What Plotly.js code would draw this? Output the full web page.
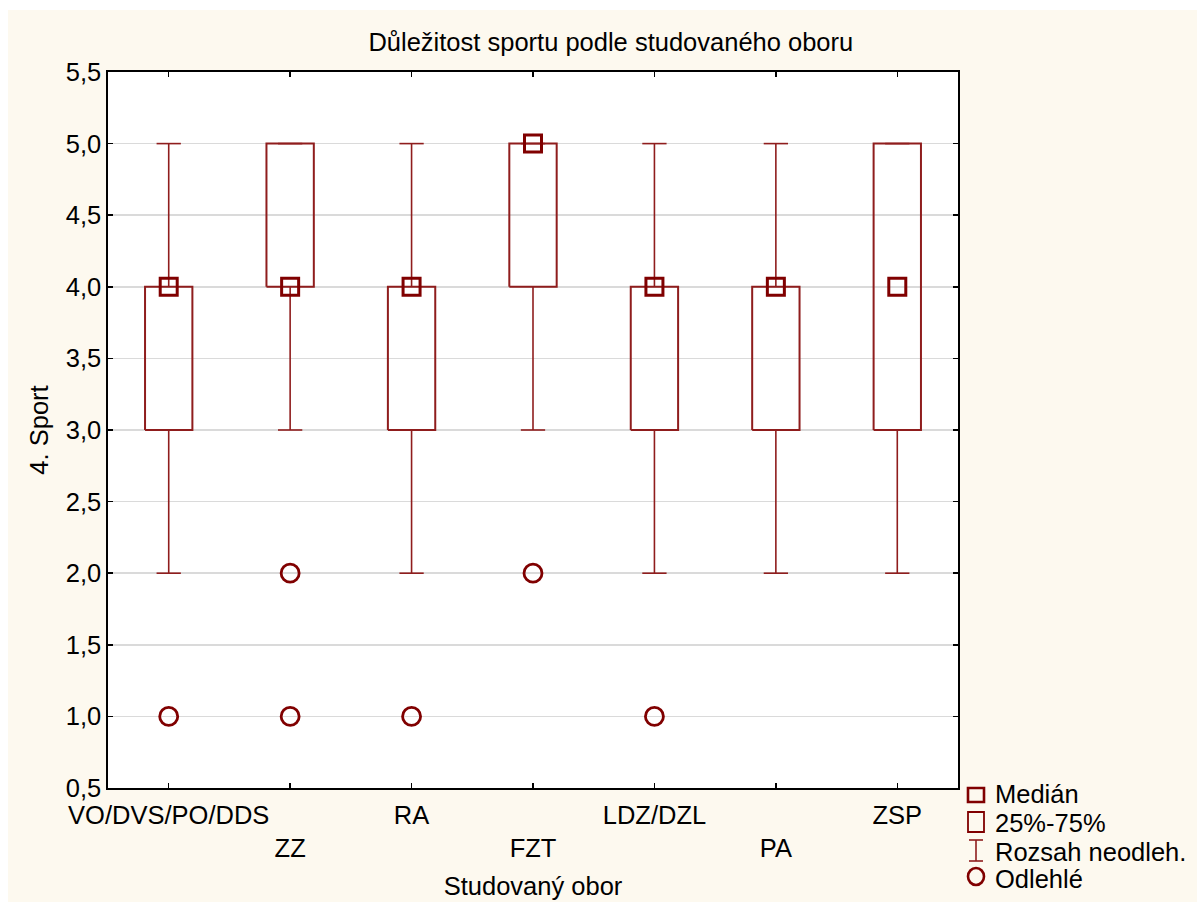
<!DOCTYPE html>
<html>
<head>
<meta charset="utf-8">
<script src="https://cdn.plot.ly/plotly-3.0.1.min.js"></script>
<style>
  html, body { margin: 0; padding: 0; background: #ffffff; }
  #chart { position: absolute; left: 8px; top: 10px; width: 1189px; height: 892px; }
</style>
</head>
<body>
<div id="chart"></div>
<script>
// ---- data ----
const categories = ['VO/DVS/PO/DDS', 'ZZ', 'RA', 'FZT', 'LDZ/DZL', 'PA', 'ZSP'];
const medians = [4, 4, 4, 5, 4, 4, 4];
const q1 = [3, 4, 3, 4, 3, 3, 3];
const q3 = [4, 5, 4, 5, 4, 4, 5];
const whiskerLow = [2, 3, 2, 3, 2, 2, 2];
const whiskerHigh = [5, 5, 5, 5, 5, 5, 5];
const outliers = [[1], [2, 1], [1], [2], [1], [], []];
const yTickVals = [0.5, 1.0, 1.5, 2.0, 2.5, 3.0, 3.5, 4.0, 4.5, 5.0, 5.5];
const legendLabels = ['Medián', '25%-75%', 'Rozsah neodleh.', 'Odlehlé'];

// ---- styling ----
const DARK = '#800000';
const BOXC = '#8f1d1d';
const FONT = 'Liberation Sans, Arial, sans-serif';
const FS = 25.5;
const boxHalf = 0.195;
const capHalf = 0.1;

// build traces from data
const xIdx = categories.map((c, i) => i);

const wx = [], wy = [];
xIdx.forEach(i => {
  wx.push(i, i, null); wy.push(q3[i], whiskerHigh[i], null);
  wx.push(i - capHalf, i + capHalf, null); wy.push(whiskerHigh[i], whiskerHigh[i], null);
  wx.push(i, i, null); wy.push(q1[i], whiskerLow[i], null);
  wx.push(i - capHalf, i + capHalf, null); wy.push(whiskerLow[i], whiskerLow[i], null);
});

const bx = [], by = [];
xIdx.forEach(i => {
  bx.push(i - boxHalf, i + boxHalf, i + boxHalf, i - boxHalf, i - boxHalf, null);
  by.push(q1[i], q1[i], q3[i], q3[i], q1[i], null);
});

const ox = [], oy = [];
outliers.forEach((arr, i) => arr.forEach(v => { ox.push(i); oy.push(v); }));

const traces = [
  { type: 'scatter', mode: 'lines', x: wx, y: wy, line: { color: BOXC, width: 1.6 }, hoverinfo: 'skip', showlegend: false, connectgaps: false },
  { type: 'scatter', mode: 'lines', x: bx, y: by, line: { color: BOXC, width: 2 }, hoverinfo: 'skip', showlegend: false, connectgaps: false },
  { type: 'scatter', mode: 'markers', x: xIdx, y: medians, marker: { symbol: 'square-open', size: 17, color: DARK, line: { color: DARK, width: 3 } }, showlegend: false },
  { type: 'scatter', mode: 'markers', x: ox, y: oy, marker: { symbol: 'circle-open', size: 18, color: DARK, line: { color: DARK, width: 2.8 } }, showlegend: false }
];

// ---- manual legend (page px -> paper coords) ----
const L = 100, T = 62, PW = 850, PH = 716;
const px = x => (x - L) / PW;
const py = y => (T + PH - y) / PH;
const shapes = [
  { type: 'rect', xref: 'paper', yref: 'paper', x0: px(960), x1: px(976), y0: py(778), y1: py(792), line: { color: DARK, width: 2.6 } },
  { type: 'rect', xref: 'paper', yref: 'paper', x0: px(960), x1: px(976), y0: py(802), y1: py(822), line: { color: DARK, width: 1.8 } },
  { type: 'line', xref: 'paper', yref: 'paper', x0: px(968), x1: px(968), y0: py(830), y1: py(851), line: { color: BOXC, width: 1.6 } },
  { type: 'line', xref: 'paper', yref: 'paper', x0: px(961), x1: px(975), y0: py(830), y1: py(830), line: { color: BOXC, width: 1.6 } },
  { type: 'line', xref: 'paper', yref: 'paper', x0: px(961), x1: px(975), y0: py(851), y1: py(851), line: { color: BOXC, width: 1.6 } },
  { type: 'circle', xref: 'paper', yref: 'paper', x0: px(960), x1: px(976), y0: py(858), y1: py(875), line: { color: DARK, width: 2.6 } }
];
const legendY = [783.5, 813, 842, 869];
const annotations = legendLabels.map((t, k) => ({
  xref: 'paper', yref: 'paper', x: px(985), y: py(legendY[k]), xanchor: 'left', yanchor: 'middle',
  text: t, showarrow: false, font: { family: FONT, size: FS, color: '#000' }
}));

const layout = {
  width: 1189, height: 892,
  paper_bgcolor: '#fdf9ef',
  plot_bgcolor: '#ffffff',
  separators: ', ',
  margin: { l: L, r: 1189 - L - PW, t: T, b: 892 - T - PH },
  font: { family: FONT, size: FS, color: '#000' },
  title: { text: 'Důležitost sportu podle studovaného oboru', font: { family: FONT, size: FS, color: '#000' }, x: 0.507, xref: 'container', y: 1 - 32 / 892, yref: 'container', yanchor: 'middle', xanchor: 'center' },
  xaxis: {
    range: [-0.5, 6.5],
    tickmode: 'array', tickvals: xIdx,
    ticktext: categories.map((c, i) => i % 2 ? '<br>' + c : c),
    ticks: 'inside', ticklen: 5, tickwidth: 1.5, tickcolor: '#000',
    showline: true, linecolor: '#000', linewidth: 1.6, mirror: 'ticks',
    showgrid: false, zeroline: false,
    ticklabelstandoff: 4,
    tickfont: { family: FONT, size: FS, color: '#000' },
    title: { text: 'Studovaný obor', font: { family: FONT, size: FS, color: '#000' }, standoff: 16 }
  },
  yaxis: {
    range: [0.5, 5.5],
    tickmode: 'array', tickvals: yTickVals,
    tickformat: '.1f',
    ticks: 'inside', ticklen: 5, tickwidth: 1.5, tickcolor: '#000',
    showline: true, linecolor: '#000', linewidth: 1.6, mirror: 'ticks',
    showgrid: true, gridcolor: '#dadada', gridwidth: 1.6, zeroline: false,
    tickfont: { family: FONT, size: FS, color: '#000' },
    title: { text: '4. Sport', font: { family: FONT, size: FS, color: '#000' }, standoff: 10 }
  },
  shapes: shapes,
  annotations: annotations,
  showlegend: false
};

Plotly.newPlot('chart', traces, layout, { displayModeBar: false, staticPlot: true });
</script>
</body>
</html>
